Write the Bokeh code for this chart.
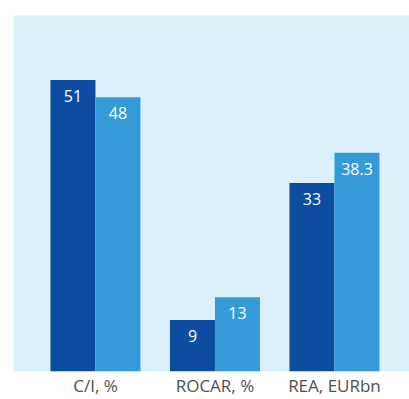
import numpy as np
from bokeh.plotting import figure
from bokeh.models import Range1d, FixedTicker, ColumnDataSource
from bokeh.core.properties import value
from bokeh.embed import file_html
from bokeh.resources import INLINE

categories = ["C/I, %", "ROCAR, %", "REA, EURbn"]
series_a = [51, 9, 33]
series_b = [48, 13, 38.3]
labels_a = ["51", "9", "33"]
labels_b = ["48", "13", "38.3"]

dark = "#0c4da2"
light = "#359bd8"
panel = "#dcf0fb"

idx = np.arange(len(categories))
bw = 0.3766

p = figure(width=409, height=399, output_backend="svg", toolbar_location=None,
           x_range=Range1d(-0.686, 2.628), y_range=Range1d(0, 62.3),
           min_border_left=13, min_border_right=0, min_border_top=15, min_border_bottom=28)
p.background_fill_color = panel
p.border_fill_color = "white"
p.outline_line_color = None
p.xgrid.visible = False
p.ygrid.visible = False
p.yaxis.visible = False

src_a = ColumnDataSource(dict(x=idx - bw / 2, top=series_a, lab=labels_a))
src_b = ColumnDataSource(dict(x=idx + bw / 2, top=series_b, lab=labels_b))

p.vbar(x="x", top="top", width=bw, bottom=0, source=src_a, fill_color=dark, line_color=None)
p.vbar(x="x", top="top", width=bw, bottom=0, source=src_b, fill_color=light, line_color=None)

for src in (src_a, src_b):
    p.text(x="x", y="top", text="lab", source=src, text_color="white",
           text_font=value("Open Sans"), text_font_size="16px",
           text_align="center", text_baseline="middle", y_offset=16)

ax = p.xaxis[0]
ax.ticker = FixedTicker(ticks=list(idx))
ax.major_label_overrides = {int(i): c for i, c in zip(idx, categories)}
ax.axis_line_color = None
ax.major_tick_line_color = None
ax.minor_tick_line_color = None
ax.major_tick_out = 0
ax.major_tick_in = 0
ax.minor_tick_out = 0
ax.minor_tick_in = 0
ax.major_label_standoff = 2
ax.major_label_text_font = "Open Sans"
ax.major_label_text_font_size = "17px"
ax.major_label_text_color = "#505050"

open("out.html", "w").write(file_html(p, INLINE))
